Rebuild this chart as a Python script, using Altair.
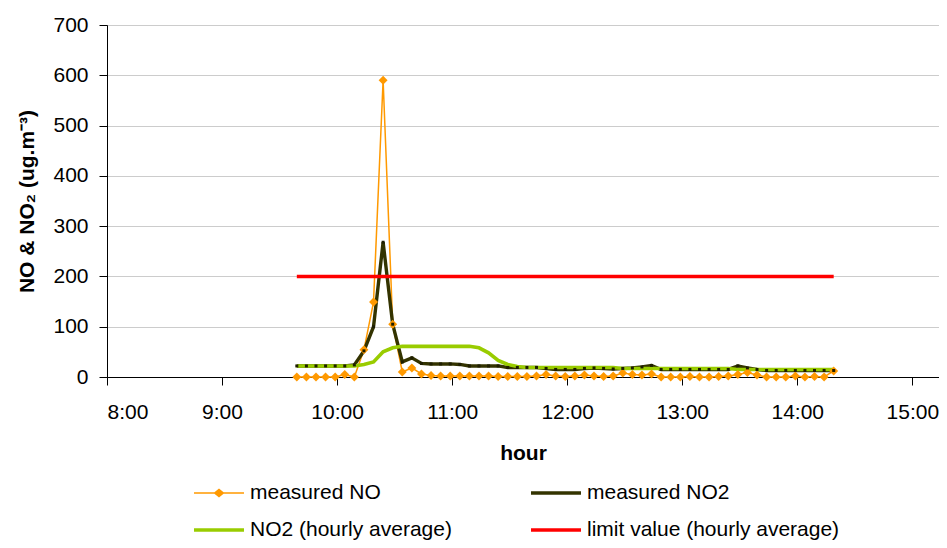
import altair as alt
import pandas as pd

# ---- data ----
times = ["9:39", "9:44", "9:49", "9:54", "9:59",
         "10:04", "10:09", "10:14", "10:19", "10:24", "10:29", "10:34", "10:39", "10:44", "10:49", "10:54", "10:59",
         "11:04", "11:09", "11:14", "11:19", "11:24", "11:29", "11:34", "11:39", "11:44", "11:49", "11:54", "11:59",
         "12:04", "12:09", "12:14", "12:19", "12:24", "12:29", "12:34", "12:39", "12:44", "12:49", "12:54", "12:59",
         "13:04", "13:09", "13:14", "13:19", "13:24", "13:29", "13:34", "13:39", "13:44", "13:49", "13:54", "13:59",
         "14:04", "14:09", "14:14", "14:19"]

no_measured = [0, 0, 0, 0, 0, 5, 0, 54, 149, 590, 105, 10, 18, 6, 3, 2, 2, 2, 2, 2,
               2, 1, 1, 1, 1, 2, 5, 2, 1, 2, 4, 2, 1, 2, 8, 5, 4, 6, 0, 0,
               0, 1, 0, 0, 1, 2, 5, 9, 4, 0, 0, 0, 2, 0, 1, 0, 12]

no2_measured = [22, 22, 22, 22, 22, 22, 24, 52, 100, 268, 105, 30, 38, 27, 26, 26, 26, 25, 22, 22,
                22, 22, 19, 19, 19, 19, 17, 15, 15, 15, 17, 18, 17, 16, 17, 18, 20, 23, 15, 15,
                15, 15, 15, 15, 15, 15, 22, 18, 15, 13, 13, 13, 13, 13, 13, 13, 13]

no2_hourly = [22, 22, 22, 22, 22, 22, 22, 25, 30, 50, 58, 61, 61, 61, 61, 61, 61, 61, 61, 58,
              48, 33, 25, 21, 19, 19, 19, 19, 19, 19, 19, 19, 19, 19, 17, 17, 17, 17, 17, 17,
              17, 17, 17, 17, 17, 17, 15, 15, 15, 15, 15, 15, 15, 15, 15, 15, 15]

limit_times = ["9:39", "14:19"]
limit_values = [200, 200]

series_names = ["measured NO", "measured NO2", "NO2 (hourly average)", "limit value (hourly average)"]
series_colors = ["#FF9900", "#333300", "#99CC00", "#FF0000"]

x_ticks = [8, 9, 10, 11, 12, 13, 14, 15]
y_ticks = [0, 100, 200, 300, 400, 500, 600, 700]


def to_hour(t):
    h, m = t.split(":")
    return int(h) + int(m) / 60.0


df = pd.DataFrame({
    "hour": [to_hour(t) for t in times],
    "NO": no_measured,
    "NO2": no2_measured,
    "NO2h": no2_hourly,
})
lim = pd.DataFrame({"hour": [to_hour(t) for t in limit_times], "value": limit_values})
leg = pd.DataFrame({"series": series_names})

FONT = "Liberation Sans"

# legend symbols: custom paths (line, with a diamond for measured NO)
legend_paths = [
    "M-1.47,-0.05L-0.27,-0.05L0,-0.27L0.27,-0.05L1.47,-0.05L1.47,0.05L0.27,0.05L0,0.27L-0.27,0.05L-1.47,0.05Z",
    "M-1.47,-0.11L1.47,-0.11L1.47,0.11L-1.47,0.11Z",
    "M-1.47,-0.11L1.47,-0.11L1.47,0.11L-1.47,0.11Z",
    "M-1.47,-0.11L1.47,-0.11L1.47,0.11L-1.47,0.11Z",
]

xs = alt.Scale(domain=[8, 15.232], nice=False, zero=False)
ys = alt.Scale(domain=[0, 700], nice=False)

x_axis = alt.Axis(values=x_ticks, labelExpr="datum.value + ':00'", title="hour", grid=False,
                  tickSize=8, labelPadding=16, titlePadding=20)
y_axis = alt.Axis(values=y_ticks, title="NO & NO\u2082 (ug.m\u207b\u00b3)", grid=True,
                  tickSize=8, labelPadding=11, titlePadding=15)


def X():
    return alt.X("hour:Q", scale=xs, axis=x_axis)


base = alt.Chart(df)

no_line = base.mark_line(color="#FF9900", strokeWidth=1.5).encode(
    x=X(), y=alt.Y("NO:Q", scale=ys, axis=y_axis))
no2_line = base.mark_line(color="#333300", strokeWidth=3.4).encode(
    x=X(), y=alt.Y("NO2:Q", scale=ys, axis=y_axis))
no2h_line = base.mark_line(color="#99CC00", strokeWidth=3.6).encode(
    x=X(), y=alt.Y("NO2h:Q", scale=ys, axis=y_axis))
limit_line = alt.Chart(lim).mark_line(color="#FF0000", strokeWidth=3.4).encode(
    x=X(), y=alt.Y("value:Q", scale=ys, axis=y_axis))
no_pts = base.mark_point(shape="diamond", filled=True, size=80, color="#FF9900", opacity=1).encode(
    x=X(), y=alt.Y("NO:Q", scale=ys, axis=y_axis))
no2_pts = base.mark_square(size=9, color="#1E1E00", opacity=1).encode(
    x=X(), y=alt.Y("NO2:Q", scale=ys, axis=y_axis))

legend_def = alt.Legend(title=None, orient="none", legendX=95, legendY=451, columns=2, direction="horizontal",
                        symbolSize=1156, symbolStrokeWidth=0, symbolOpacity=1,
                        labelFontSize=21, labelFont=FONT, labelColor="#000000", labelLimit=600,
                        labelOffset=14, columnPadding=79, rowPadding=10, padding=0)

legend_layer = alt.Chart(leg).mark_point(filled=True, opacity=1).encode(
    color=alt.Color("series:N", scale=alt.Scale(domain=series_names, range=series_colors), legend=legend_def),
    shape=alt.Shape("series:N", scale=alt.Scale(domain=series_names, range=legend_paths), legend=legend_def),
).transform_filter("datum.series == 'none'")

chart = alt.layer(
    no_line, no2_line, no2h_line, limit_line, no_pts, no2_pts, legend_layer
).properties(
    width=832, height=352,
    autosize=alt.AutoSizeParams(type="none"),
    padding={"left": 99, "top": 17, "right": 0, "bottom": 163},
).configure(
    font=FONT, background="#FFFFFF"
).configure_view(
    stroke="#888888", strokeWidth=1
).configure_axis(
    labelFont=FONT, labelFontSize=21, labelColor="#000000",
    titleFont=FONT, titleFontSize=21, titleFontWeight="bold", titleColor="#000000",
    domainColor="#000000", domainWidth=1, tickColor="#000000", tickWidth=1,
    gridColor="#CCCCCC", gridWidth=1,
)

chart.save("out.html", embed_options={"renderer": "svg", "actions": False})
